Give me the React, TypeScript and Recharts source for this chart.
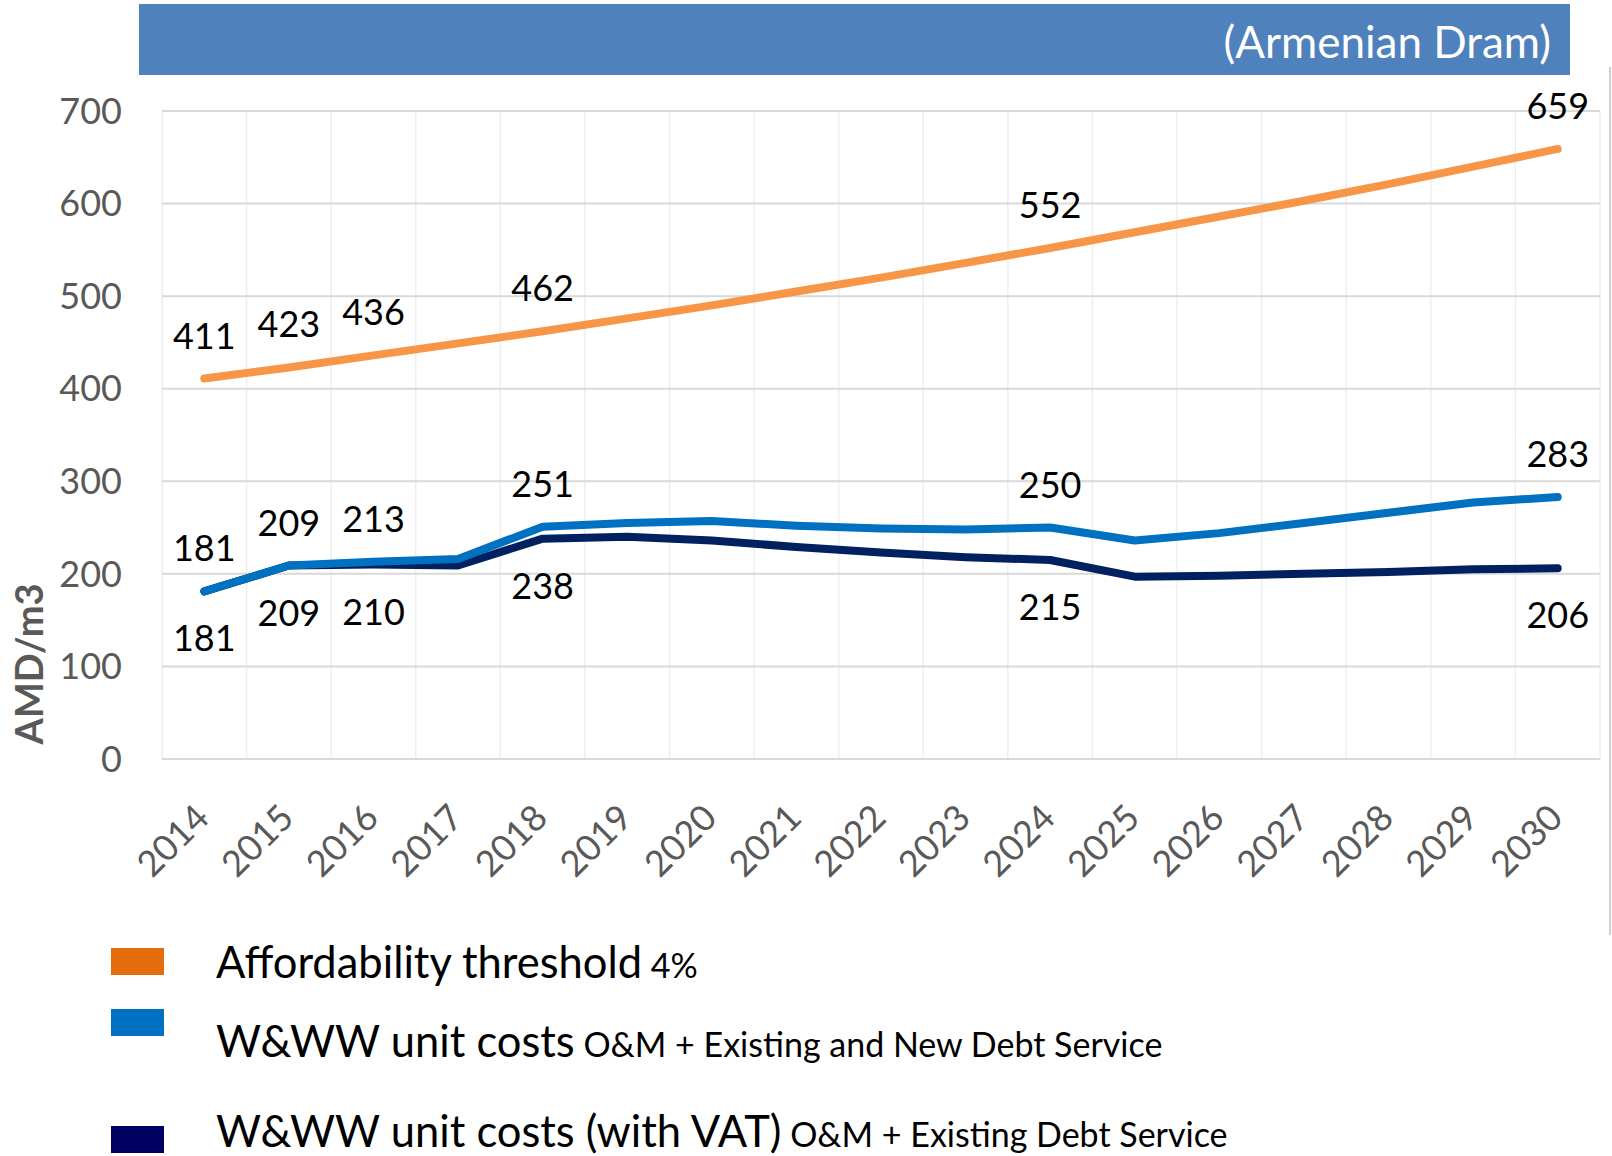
import { LineChart, Line, XAxis, YAxis, CartesianGrid, LabelList, Legend } from "recharts";

const years = [
  "2014", "2015", "2016", "2017", "2018", "2019", "2020", "2021", "2022",
  "2023", "2024", "2025", "2026", "2027", "2028", "2029", "2030",
];
const affordability = [411, 423, 436, 449, 462, 476, 490, 505, 520, 536, 552, 569, 586, 603, 621, 640, 659];
const unitCosts = [181, 209, 213, 216, 251, 255, 257, 252, 249, 248, 250, 236, 244, 255, 266, 277, 283];
const unitCostsVat = [181, 209, 210, 209, 238, 240, 236, 229, 223, 218, 215, 197, 198, 200, 202, 205, 206];
const labelledYears = ["2014", "2015", "2016", "2018", "2024", "2030"];
const yTicks = [0, 100, 200, 300, 400, 500, 600, 700];

const legendTitles = ["Affordability threshold", "W&WW unit costs", "W&WW unit costs (with VAT)"];
const legendNotes = ["4%", "O&M + Existing and New Debt Service", "O&M + Existing Debt Service"];

const data = years.map((year, i) => ({
  year,
  affordability: affordability[i],
  unitCosts: unitCosts[i],
  unitCostsVat: unitCostsVat[i],
}));

const W = 1612;
const H = 1156;
const FONT = "Lato, 'Open Sans', sans-serif";
const GREY = "#595959";
const PLOT_LEFT = 162;
const PLOT_RIGHT_GAP = 12;
const HALF_BAND = (W - PLOT_LEFT - PLOT_RIGHT_GAP) / years.length / 2;

// legend layout (relative to the legend box top)
const LEGEND_TOP = 900;
const legendRows = [
  { box: 48, base: 78, color: "#E46C0A" },
  { box: 109, base: 157, color: "#0070C0" },
  { box: 226, base: 247, color: "#000060" },
];

function XTick(props: any) {
  const { x, y, payload } = props;
  return (
    <g transform={`translate(${x + 7},${y + 61})`}>
      <text transform="rotate(-45)" textAnchor="end" fill={GREY} fontSize={36} fontFamily={FONT}>
        {payload.value}
      </text>
    </g>
  );
}

function AxisTitle(props: any) {
  const vb = props.viewBox || { x: 0, y: 111, width: 162, height: 648 };
  const x = vb.x + 43;
  const y = vb.y + vb.height - 95;
  return (
    <text
      x={x}
      y={y}
      transform={`rotate(-90 ${x} ${y})`}
      textAnchor="middle"
      fill={GREY}
      fontSize={38}
      fontWeight="bold"
      fontFamily={FONT}
    >
      AMD/m3
    </text>
  );
}

const makeLabel = (dy: number) => (props: any) => {
  const { x, y, value, index } = props;
  if (!labelledYears.includes(years[index])) return <g />;
  return (
    <text x={x} y={y + dy} textAnchor="middle" fill="#000" fontSize={36} fontFamily={FONT}>
      {value}
    </text>
  );
};

function LegendBox() {
  return (
    <svg width={W} height={H - LEGEND_TOP} style={{ display: "block" }}>
      {legendRows.map((row, i) => (
        <g key={i}>
          <rect x={111} y={row.box} width={53} height={27} fill={row.color} />
          <text x={216} y={row.base} fill="#000" fontSize={43.5} fontFamily={FONT}>
            {legendTitles[i]}
            <tspan fontSize={34}>{" " + legendNotes[i]}</tspan>
          </text>
        </g>
      ))}
    </svg>
  );
}

export default function App() {
  return (
    <div style={{ position: "absolute", left: 0, top: 0, width: W, height: H, background: "#fff" }}>
      <svg width={W} height={80} style={{ position: "absolute", left: 0, top: 0 }}>
        <rect x={139} y={4} width={1431} height={71} fill="#4F81BD" />
        <text x={1551} y={58} textAnchor="end" fill="#fff" fontSize={44} fontFamily={FONT}>
          (Armenian Dram)
        </text>
      </svg>
      <div
        style={{ position: "absolute", left: 1609, top: 67, width: 2, height: 868, background: "#D0D0D0" }}
      />
      <LineChart
        width={W}
        height={H}
        data={data}
        margin={{ top: 111, right: PLOT_RIGHT_GAP, left: 0, bottom: 247 }}
      >
        <CartesianGrid
          horizontal={false}
          stroke="#EEEEEE"
          strokeWidth={1.5}
          verticalCoordinatesGenerator={(p: any) =>
            Array.from({ length: years.length + 1 }, (_, i) => p.offset.left + (i * p.offset.width) / years.length)
          }
        />
        <CartesianGrid vertical={false} stroke="#D9D9D9" strokeWidth={2} />
        <XAxis
          dataKey="year"
          interval={0}
          height={150}
          axisLine={false}
          tickLine={false}
          tickSize={0}
          tickMargin={0}
          padding={{ left: HALF_BAND, right: HALF_BAND }}
          tick={<XTick />}
        />
        <YAxis
          domain={[0, 700]}
          ticks={yTicks}
          width={PLOT_LEFT}
          axisLine={false}
          tickLine={false}
          tickSize={0}
          tickMargin={40}
          tick={{ fill: GREY, fontSize: 36, fontFamily: FONT }}
          label={<AxisTitle />}
        />
        <Legend
          layout="vertical"
          align="center"
          verticalAlign="middle"
          wrapperStyle={{ left: 0, top: LEGEND_TOP, width: W, height: H - LEGEND_TOP }}
          content={() => <LegendBox />}
        />
        <Line
          dataKey="affordability"
          stroke="#F79646"
          strokeWidth={8}
          strokeLinecap="round"
          strokeLinejoin="round"
          dot={false}
          isAnimationActive={false}
        >
          <LabelList dataKey="affordability" content={makeLabel(-30)} />
        </Line>
        <Line
          dataKey="unitCostsVat"
          stroke="#002060"
          strokeWidth={8}
          strokeLinecap="round"
          strokeLinejoin="round"
          dot={false}
          isAnimationActive={false}
        >
          <LabelList dataKey="unitCostsVat" content={makeLabel(60)} />
        </Line>
        <Line
          dataKey="unitCosts"
          stroke="#0070C0"
          strokeWidth={8}
          strokeLinecap="round"
          strokeLinejoin="round"
          dot={false}
          isAnimationActive={false}
        >
          <LabelList dataKey="unitCosts" content={makeLabel(-30)} />
        </Line>
      </LineChart>
    </div>
  );
}
